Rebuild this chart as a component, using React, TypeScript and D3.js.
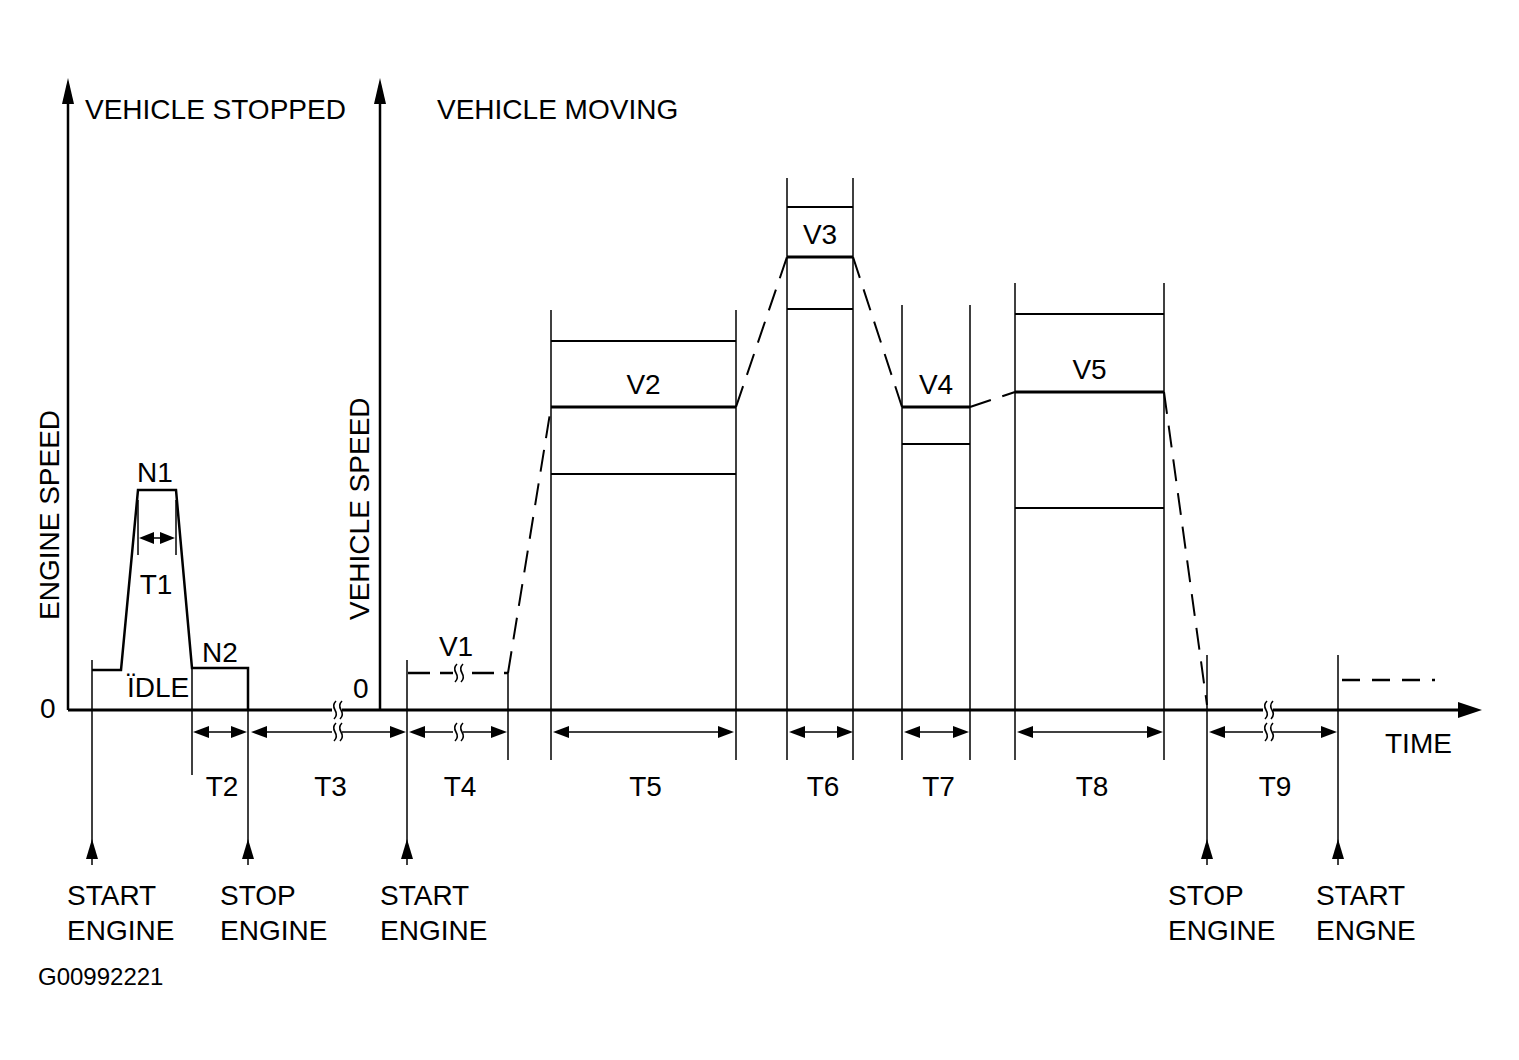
import React from "react";
import * as d3 from "d3";

// ---------- data (time units / speed units) ----------
const engineProfile: [number, number][] = [
  [24, 40], [53, 40], [70, 220], [108, 220], [124, 42], [180, 42], [180, 0],
];

const vehicleAxisT = 312;

// speed bands: start/end time, target level, upper/lower tolerance, top of guide lines
const bandNames = ["V2", "V3", "V4", "V5"];
const bandStart = [483, 719, 834, 947];
const bandEnd = [668, 785, 902, 1096];
const bandTarget = [303, 453, 303, 318];
const bandUpper = [369, 503, null, 396];
const bandLower = [236, 401, 266, 202];
const bandTop = [400, 532, 405, 427];

const v1 = { name: "V1", start: 340, end: 440, level: 37, brk: 390 };
const rampEnd: [number, number] = [1139, 5];
const restart = { start: 1274, end: 1367, level: 30 };

const spanLabels = ["T2", "T3", "T4", "T5", "T6", "T7", "T8", "T9"];
const spanFrom = [124, 182, 340, 484, 720, 835, 948, 1140];
const spanTo = [180, 339, 440, 667, 786, 902, 1096, 1270];
const spanBreak = [null, 269, 390, null, null, null, null, 1200];

const eventT = [24, 180, 339, 1139, 1270];
const eventTop = [50, 42, 50, 55, 55];
const eventLine1 = ["START", "STOP", "START", "STOP", "START"];
const eventLine2 = ["ENGINE", "ENGINE", "ENGINE", "ENGINE", "ENGNE"];

const axisBreaks = [269, 1200];

// ---------- layout ----------
const eventTextShift = [-25, -28, -27, -39, -22];

// ---------- scales ----------
const x = d3.scaleLinear().domain([0, 1414]).range([68, 1482]);
const y = d3.scaleLinear().domain([0, 630]).range([710, 80]);
const line = d3.line<[number, number]>().x((d) => x(d[0])).y((d) => y(d[1]));

const FONT = "'Liberation Sans', Arial, Helvetica, sans-serif";
const ROW = 732;
const GUIDE_BOTTOM = 760;

function Arrowhead({ tx, ty, dir, len = 14, half = 6 }: any) {
  let pts: number[][] = [];
  if (dir === "r") pts = [[tx, ty], [tx - len, ty - half], [tx - len, ty + half]];
  if (dir === "l") pts = [[tx, ty], [tx + len, ty - half], [tx + len, ty + half]];
  if (dir === "u") pts = [[tx, ty], [tx - half, ty + len], [tx + half, ty + len]];
  return <polygon points={pts.map((p) => p.join(",")).join(" ")} fill="#000" />;
}

function BreakMark({ px, py }: any) {
  const s = (dx: number) => `M${px + dx + 2},${py - 9} q-4,4 -1,9 q3,5 -1,9`;
  return (
    <g>
      <rect x={px - 5} y={py - 3} width={10} height={6} fill="#fff" />
      <path d={s(-3)} fill="none" stroke="#000" strokeWidth={1.6} />
      <path d={s(3)} fill="none" stroke="#000" strokeWidth={1.6} />
    </g>
  );
}

export default function App() {
  const y0 = y(0);
  const txt = { fontFamily: FONT, fontSize: 28, fill: "#000" } as any;

  const conn: [number, number][][] = [];
  conn.push([[v1.end, v1.level], [bandStart[0], bandTarget[0]]]);
  for (let i = 0; i < bandNames.length - 1; i++) {
    conn.push([[bandEnd[i], bandTarget[i]], [bandStart[i + 1], bandTarget[i + 1]]]);
  }
  conn.push([[bandEnd[3], bandTarget[3]], rampEnd]);

  const p2 = x(engineProfile[2][0]);
  const p3 = x(engineProfile[3][0]);

  return (
    <svg width={1519} height={1060} style={{ position: "absolute", left: 0, top: 0, background: "#fff" }}>
      <rect width={1519} height={1060} fill="#fff" />

      {/* axes */}
      <line x1={x(0)} y1={y0} x2={x(1392)} y2={y0} stroke="#000" strokeWidth={3} />
      <Arrowhead tx={x(1414)} ty={y0} dir="r" len={24} half={8} />
      <line x1={x(0)} y1={y0} x2={x(0)} y2={100} stroke="#000" strokeWidth={2.5} />
      <Arrowhead tx={x(0)} ty={78} dir="u" len={26} half={6} />
      <line x1={x(vehicleAxisT)} y1={y0} x2={x(vehicleAxisT)} y2={100} stroke="#000" strokeWidth={2.5} />
      <Arrowhead tx={x(vehicleAxisT)} ty={78} dir="u" len={26} half={6} />

      <text {...txt} x={85} y={119}>VEHICLE STOPPED</text>
      <text {...txt} x={437} y={119}>VEHICLE MOVING</text>
      <text {...txt} transform={`translate(59,620) rotate(-90)`}>ENGINE SPEED</text>
      <text {...txt} transform={`translate(369,620) rotate(-90)`}>VEHICLE SPEED</text>
      <text {...txt} x={40} y={718}>0</text>
      <text {...txt} x={353} y={698}>0</text>
      <text {...txt} x={1385} y={753}>TIME</text>

      {/* engine speed profile */}
      <path d={line(engineProfile) || ""} fill="none" stroke="#000" strokeWidth={2.5} />
      <line x1={p2} y1={500} x2={p2} y2={555} stroke="#000" strokeWidth={1.5} />
      <line x1={p3} y1={500} x2={p3} y2={555} stroke="#000" strokeWidth={1.5} />
      <line x1={p2 + 12} y1={538} x2={p3 - 12} y2={538} stroke="#000" strokeWidth={1.5} />
      <Arrowhead tx={p2 + 1} ty={538} dir="l" len={15} half={6} />
      <Arrowhead tx={p3 - 1} ty={538} dir="r" len={15} half={6} />
      <text {...txt} x={155} y={482} textAnchor="middle">N1</text>
      <text {...txt} x={156} y={594} textAnchor="middle">T1</text>
      <text {...txt} x={220} y={662} textAnchor="middle">N2</text>
      <text {...txt} x={158} y={697} textAnchor="middle">ÏDLE</text>
      <line x1={x(engineProfile[4][0])} y1={y(engineProfile[4][1]) - 2} x2={x(engineProfile[4][0])} y2={775} stroke="#000" strokeWidth={1.5} />

      {/* events */}
      {eventT.map((t, i) => (
        <g key={"ev" + i}>
          <line x1={x(t)} y1={y(eventTop[i])} x2={x(t)} y2={865} stroke="#000" strokeWidth={1.5} />
          <Arrowhead tx={x(t)} ty={839} dir="u" len={20} half={6} />
          <text {...txt} x={x(t) + eventTextShift[i]} y={905}>{eventLine1[i]}</text>
          <text {...txt} x={x(t) + eventTextShift[i]} y={940}>{eventLine2[i]}</text>
        </g>
      ))}

      {/* V1 */}
      <line x1={x(v1.start)} y1={y(v1.level)} x2={x(v1.end)} y2={y(v1.level)} stroke="#000" strokeWidth={2.5} strokeDasharray="22,10" />
      <line x1={x(v1.end)} y1={y(v1.level)} x2={x(v1.end)} y2={GUIDE_BOTTOM} stroke="#000" strokeWidth={1.5} />
      <BreakMark px={x(v1.brk)} py={y(v1.level)} />
      <text {...txt} x={x((v1.start + v1.end) / 2) - 2} y={656} textAnchor="middle">V1</text>

      {/* bands */}
      {bandNames.map((n, i) => {
        const x1 = x(bandStart[i]);
        const x2 = x(bandEnd[i]);
        const up = bandUpper[i];
        return (
          <g key={n}>
            <line x1={x1} y1={y(bandTop[i])} x2={x1} y2={GUIDE_BOTTOM} stroke="#000" strokeWidth={1.5} />
            <line x1={x2} y1={y(bandTop[i])} x2={x2} y2={GUIDE_BOTTOM} stroke="#000" strokeWidth={1.5} />
            {up !== null && <line x1={x1} y1={y(up)} x2={x2} y2={y(up)} stroke="#000" strokeWidth={2} />}
            <line x1={x1} y1={y(bandTarget[i])} x2={x2} y2={y(bandTarget[i])} stroke="#000" strokeWidth={3} />
            <line x1={x1} y1={y(bandLower[i])} x2={x2} y2={y(bandLower[i])} stroke="#000" strokeWidth={2} />
            <text {...txt} x={(x1 + x2) / 2} y={y(bandTarget[i]) - 13} textAnchor="middle">{n}</text>
          </g>
        );
      })}

      {/* dashed transitions */}
      {conn.map((c, i) => (
        <path key={"c" + i} d={line(c) || ""} fill="none" stroke="#000" strokeWidth={2} strokeDasharray="22,12" />
      ))}
      <line x1={x(restart.start)} y1={y(restart.level)} x2={x(restart.end)} y2={y(restart.level)} stroke="#000" strokeWidth={2.5} strokeDasharray="18,12" />

      {/* axis breaks */}
      {axisBreaks.map((t, i) => <BreakMark key={"ab" + i} px={x(t)} py={y0} />)}

      {/* dimension spans */}
      {spanLabels.map((lab, i) => {
        const a = x(spanFrom[i]);
        const b = x(spanTo[i]);
        const brk = spanBreak[i];
        return (
          <g key={lab}>
            <line x1={a + 10} y1={ROW} x2={b - 10} y2={ROW} stroke="#000" strokeWidth={1.5} />
            <Arrowhead tx={a + 1} ty={ROW} dir="l" len={16} half={6} />
            <Arrowhead tx={b - 1} ty={ROW} dir="r" len={16} half={6} />
            {brk !== null && <BreakMark px={x(brk)} py={ROW} />}
            <text {...txt} x={(a + b) / 2 + 2} y={796} textAnchor="middle">{lab}</text>
          </g>
        );
      })}

      <text fontFamily={FONT} fontSize={24} x={38} y={985}>G00992221</text>
    </svg>
  );
}
